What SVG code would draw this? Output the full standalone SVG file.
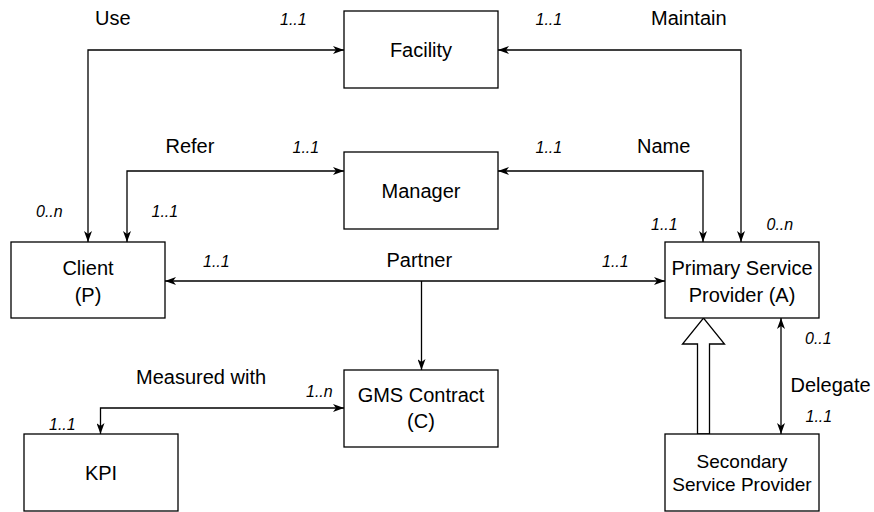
<svg xmlns="http://www.w3.org/2000/svg" width="874" height="512" viewBox="0 0 874 512">
<style>
.box{fill:#fff;stroke:#000;stroke-width:1.3}
.ln{fill:none;stroke:#000;stroke-width:1.3}
.t{font-family:"Liberation Sans",Arial,sans-serif;font-size:20px;fill:#000;text-anchor:middle}
.s{font-size:19px}
.lbl{font-family:"Liberation Sans",Arial,sans-serif;font-size:20px;fill:#000}
.c{font-family:"Liberation Sans",Arial,sans-serif;font-size:16px;font-style:italic;fill:#000}
</style>
<defs>
<marker id="a" viewBox="0 0 11 8" refX="11" refY="4" markerWidth="11" markerHeight="8" markerUnits="userSpaceOnUse" orient="auto-start-reverse">
<path d="M0,0 L11,4 L0,8 L3,4 Z" fill="#000"/>
</marker>
</defs>
<rect width="874" height="512" fill="#fff"/>
<g id="connectors">
<path class="ln" d="M88,242 V50 H344" marker-start="url(#a)" marker-end="url(#a)"/>
<path class="ln" d="M127,242 V171 H344" marker-start="url(#a)" marker-end="url(#a)"/>
<path class="ln" d="M498,50 H741 V242" marker-start="url(#a)" marker-end="url(#a)"/>
<path class="ln" d="M498,171 H703 V242" marker-start="url(#a)" marker-end="url(#a)"/>
<path class="ln" d="M165,281 H665" marker-start="url(#a)" marker-end="url(#a)"/>
<path class="ln" d="M421.5,281 V370" marker-end="url(#a)"/>
<path class="ln" d="M100.5,434 V408 H344" marker-start="url(#a)" marker-end="url(#a)"/>
<path class="ln" d="M781,318 V434" marker-start="url(#a)" marker-end="url(#a)"/>
<polygon class="box" points="697.5,434 697.5,344 682.5,344 703.5,318 724.5,344 709.5,344 709.5,434"/>
<text class="lbl" x="95" y="25">Use</text>
<text class="lbl" x="165.5" y="153">Refer</text>
<text class="lbl" x="651" y="25">Maintain</text>
<text class="lbl" x="637" y="153">Name</text>
<text class="lbl" x="386.5" y="267">Partner</text>
<text class="lbl" x="136" y="384">Measured with</text>
<text class="lbl" x="790.5" y="391.5">Delegate</text>
<text class="c" x="280" y="25">1..1</text>
<text class="c" x="292.5" y="153">1..1</text>
<text class="c" x="36" y="216.5">0..n</text>
<text class="c" x="151.5" y="216.5">1..1</text>
<text class="c" x="535.5" y="25">1..1</text>
<text class="c" x="535.5" y="153">1..1</text>
<text class="c" x="651" y="230">1..1</text>
<text class="c" x="766.5" y="230">0..n</text>
<text class="c" x="203" y="267">1..1</text>
<text class="c" x="602" y="267">1..1</text>
<text class="c" x="306" y="396.5">1..n</text>
<text class="c" x="49" y="430">1..1</text>
<text class="c" x="805" y="344">0..1</text>
<text class="c" x="805.5" y="421.5">1..1</text>
</g>
<g id="facility"><rect class="box" x="344" y="11" width="154" height="77"/><text class="t" x="421" y="57">Facility</text></g>
<g id="manager"><rect class="box" x="344" y="152" width="154" height="77"/><text class="t" x="421" y="198">Manager</text></g>
<g id="client"><rect class="box" x="11" y="242" width="154" height="76"/><text class="t" x="88" y="274.5">Client</text><text class="t" x="88" y="301.5">(P)</text></g>
<g id="primary"><rect class="box" x="665" y="242" width="154" height="76"/><text class="t" x="742" y="274.5">Primary Service</text><text class="t" x="742" y="301.5">Provider (A)</text></g>
<g id="gms"><rect class="box" x="344" y="370" width="154" height="77"/><text class="t" x="421" y="401.5">GMS Contract</text><text class="t" x="421" y="428">(C)</text></g>
<g id="kpi"><rect class="box" x="24" y="434" width="154" height="77"/><text class="t" x="101" y="480">KPI</text></g>
<g id="secondary"><rect class="box" x="665" y="434" width="154" height="77"/><text class="t s" x="742" y="467.5">Secondary</text><text class="t s" x="742" y="491">Service Provider</text></g>
</svg>
